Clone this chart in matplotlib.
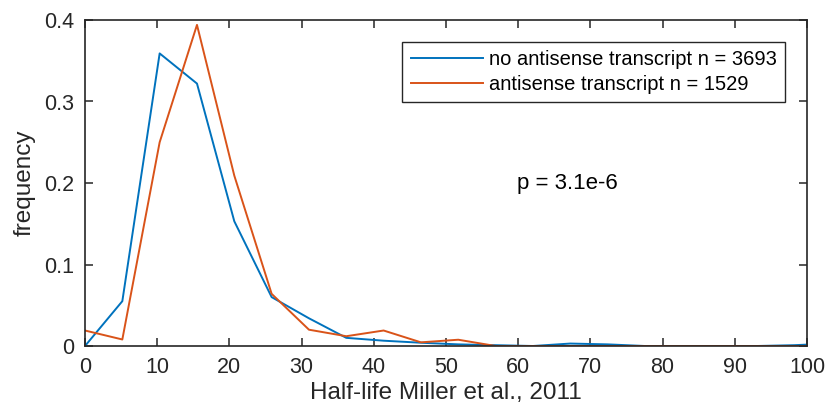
import matplotlib
matplotlib.use("Agg")
import matplotlib.pyplot as plt
from matplotlib.ticker import FuncFormatter

plt.rcParams["font.family"] = ["Liberation Sans", "DejaVu Sans"]

# bin centres (half-life, min) and relative frequencies per group
half_life = [0.0, 5.17, 10.34, 15.51, 20.68, 25.85, 31.02, 36.19, 41.36, 46.53,
             51.7, 56.87, 62.04, 67.21, 72.38, 77.55, 82.72, 87.89, 93.06, 98.23, 103.4]
freq_no_antisense = [0.0, 0.055, 0.359, 0.322, 0.153, 0.060, 0.034, 0.010, 0.0065, 0.004,
                     0.002, 0.001, 0.0, 0.003, 0.002, 0.0, 0.0, 0.0, 0.0, 0.001, 0.003]
freq_antisense = [0.019, 0.008, 0.250, 0.394, 0.209, 0.064, 0.020, 0.012, 0.019, 0.0045,
                  0.0077, 0.0, 0.0, 0.0, 0.0, 0.0, 0.0, 0.0, 0.0, 0.0, 0.0]

n_no_antisense = 3693
n_antisense = 1529
p_value = "3.1e-6"

dark = "#262626"

fig = plt.figure(figsize=(8.28, 4.19), dpi=100)
ax = fig.add_axes([85 / 828, 1 - 346 / 419, 722 / 828, 326 / 419])

ax.plot(half_life, freq_no_antisense, color="#0072BD", linewidth=1.4,
        label=f"no antisense transcript n = {n_no_antisense}")
ax.plot(half_life, freq_antisense, color="#D95319", linewidth=1.4,
        label=f"antisense transcript n = {n_antisense}")

ax.set_xlim(0, 100)
ax.set_ylim(0, 0.4)
ax.set_xticks(range(0, 101, 10))
ax.set_yticks([0, 0.1, 0.2, 0.3, 0.4])
ax.yaxis.set_major_formatter(FuncFormatter(lambda v, _: "0" if v == 0 else f"{v:g}"))
ax.tick_params(direction="in", length=6, width=1.1, top=True, right=True,
               labelsize=15.5, colors=dark)
ax.tick_params(axis="x", pad=8)
ax.tick_params(axis="y", pad=8)
for s in ax.spines.values():
    s.set_linewidth(1.2)
    s.set_color(dark)

ax.set_xlabel("Half-life Miller et al., 2011", fontsize=17.5, color=dark, labelpad=3)
ax.set_ylabel("frequency", fontsize=17.5, color=dark, labelpad=6)

leg = ax.legend(loc="upper right", bbox_to_anchor=(0.9695, 0.9325), borderaxespad=0,
                fontsize=14.5, frameon=True, fancybox=False, handlelength=3.6,
                borderpad=0.4, labelspacing=0.3, handletextpad=0.3)
leg.get_frame().set_edgecolor(dark)
leg.get_frame().set_linewidth(1.0)
leg.get_frame().set_alpha(1)

ax.text(59.8, 0.199, f"p = {p_value}", fontsize=16, color="black", va="center")

fig.savefig("out.png", dpi=100)
